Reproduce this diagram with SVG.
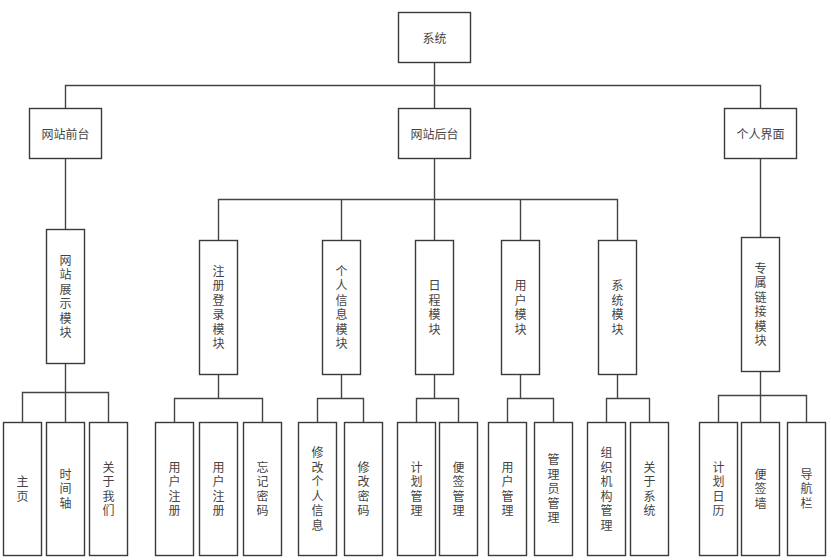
<svg xmlns="http://www.w3.org/2000/svg" width="831" height="560" viewBox="0 0 831 560">
<style>
.box{fill:#fff;stroke:#3a3a3a;stroke-width:1.4}
.ln{fill:none;stroke:#444;stroke-width:1.4}
text{font-family:"Noto Sans CJK SC","Noto Sans CJK JP",sans-serif;font-size:12px;fill:#444;text-anchor:middle;dominant-baseline:central}
.v{writing-mode:vertical-rl;letter-spacing:2.5px}
</style>
<rect width="831" height="560" fill="#fff"/>
<g id="connectors">
<path class="ln" d="M434.5 62.5V240.5M65.5 108.5V85.5H760.5V108.5"/>
<path class="ln" d="M65.5 158.5V229.5"/>
<path class="ln" d="M218.5 240.5V199.5H617.5V240.5M341.5 199.5V240.5M520.5 199.5V240.5"/>
<path class="ln" d="M760.5 158.5V237.5"/>
<path class="ln" d="M65.5 363.5V422.5M22.5 422.5V392.5H108.5V422.5"/>
<path class="ln" d="M218.5 374.5V398.5M174.5 422.5V398.5H262.5V422.5"/>
<path class="ln" d="M341.5 374.5V398.5M317.5 422.5V398.5H363.5V422.5"/>
<path class="ln" d="M434.5 374.5V398.5M416.5 422.5V398.5H458.5V422.5"/>
<path class="ln" d="M520.5 374.5V398.5M507.5 422.5V398.5H553.5V422.5"/>
<path class="ln" d="M617.5 374.5V398.5M606.5 422.5V398.5H649.5V422.5"/>
<path class="ln" d="M760.5 371.5V422.5M718.5 422.5V395.5H806.5V422.5"/>
</g>
<g id="n-sys"><rect class="box" x="398.5" y="12.5" width="72" height="50"/><text x="434.5" y="37.5">系统</text></g>
<g id="n-front"><rect class="box" x="29.5" y="108.5" width="72" height="50"/><text x="65.5" y="133.5">网站前台</text></g>
<g id="n-back"><rect class="box" x="398.5" y="108.5" width="72" height="50"/><text x="434.5" y="133.5">网站后台</text></g>
<g id="n-personal"><rect class="box" x="724.5" y="108.5" width="72" height="50"/><text x="760.5" y="133.5">个人界面</text></g>

<g id="n-show"><rect class="box" x="46.5" y="229.5" width="38" height="134"/><text class="v" x="65.5" y="297.5">网站展示模块</text></g>
<g id="n-reg"><rect class="box" x="199.5" y="240.5" width="38" height="134"/><text class="v" x="218.5" y="308.5">注册登录模块</text></g>
<g id="n-info"><rect class="box" x="322.5" y="240.5" width="38" height="134"/><text class="v" x="341.5" y="308.5">个人信息模块</text></g>
<g id="n-sched"><rect class="box" x="415.5" y="240.5" width="38" height="134"/><text class="v" x="434.5" y="308.5">日程模块</text></g>
<g id="n-user"><rect class="box" x="501.5" y="240.5" width="38" height="134"/><text class="v" x="520.5" y="308.5">用户模块</text></g>
<g id="n-sysmod"><rect class="box" x="598.5" y="240.5" width="38" height="134"/><text class="v" x="617.5" y="308.5">系统模块</text></g>
<g id="n-link"><rect class="box" x="741.5" y="237.5" width="38" height="134"/><text class="v" x="760.5" y="305.5">专属链接模块</text></g>

<g id="n-home"><rect class="box" x="3.5" y="422.5" width="38" height="133"/><text class="v" x="22.5" y="490">主页</text></g>
<g id="n-timeline"><rect class="box" x="46.5" y="422.5" width="38" height="133"/><text class="v" x="65.5" y="490">时间轴</text></g>
<g id="n-about"><rect class="box" x="89.5" y="422.5" width="38" height="133"/><text class="v" x="108.5" y="490">关于我们</text></g>
<g id="n-ureg1"><rect class="box" x="155.5" y="422.5" width="38" height="133"/><text class="v" x="174.5" y="490">用户注册</text></g>
<g id="n-ureg2"><rect class="box" x="199.5" y="422.5" width="38" height="133"/><text class="v" x="218.5" y="490">用户注册</text></g>
<g id="n-forgot"><rect class="box" x="243.5" y="422.5" width="38" height="133"/><text class="v" x="262.5" y="490">忘记密码</text></g>
<g id="n-editinfo"><rect class="box" x="298.5" y="422.5" width="38" height="133"/><text class="v" x="317.5" y="490">修改个人信息</text></g>
<g id="n-editpw"><rect class="box" x="344.5" y="422.5" width="38" height="133"/><text class="v" x="363.5" y="490">修改密码</text></g>
<g id="n-plan"><rect class="box" x="397.5" y="422.5" width="38" height="133"/><text class="v" x="416.5" y="490">计划管理</text></g>
<g id="n-note"><rect class="box" x="439.5" y="422.5" width="38" height="133"/><text class="v" x="458.5" y="490">便签管理</text></g>
<g id="n-umgr"><rect class="box" x="488.5" y="422.5" width="38" height="133"/><text class="v" x="507.5" y="490">用户管理</text></g>
<g id="n-admin"><rect class="box" x="534.5" y="422.5" width="38" height="133"/><text class="v" x="553.5" y="490">管理员管理</text></g>
<g id="n-org"><rect class="box" x="587.5" y="422.5" width="38" height="133"/><text class="v" x="606.5" y="490">组织机构管理</text></g>
<g id="n-aboutsys"><rect class="box" x="630.5" y="422.5" width="38" height="133"/><text class="v" x="649.5" y="490">关于系统</text></g>
<g id="n-cal"><rect class="box" x="699.5" y="422.5" width="38" height="133"/><text class="v" x="718.5" y="490">计划日历</text></g>
<g id="n-wall"><rect class="box" x="741.5" y="422.5" width="38" height="133"/><text class="v" x="760.5" y="490">便签墙</text></g>
<g id="n-nav"><rect class="box" x="787.5" y="422.5" width="38" height="133"/><text class="v" x="806.5" y="490">导航栏</text></g>
</svg>
